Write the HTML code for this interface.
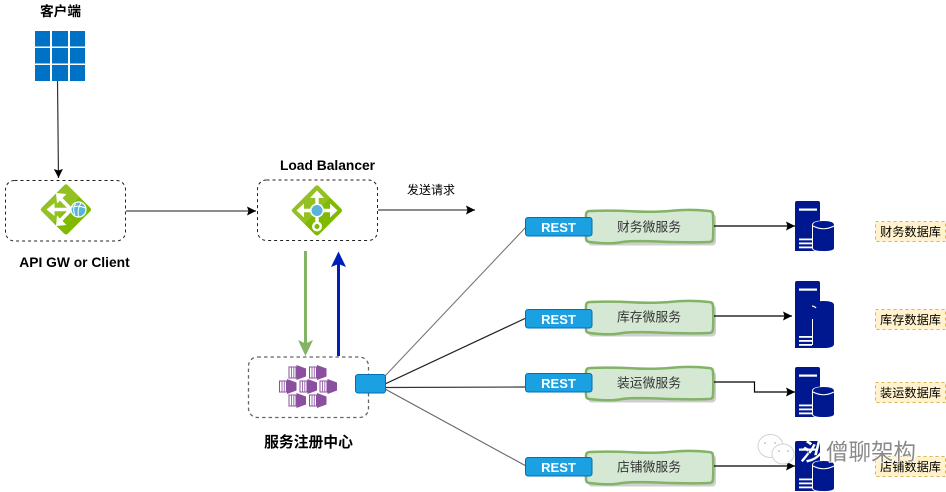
<!DOCTYPE html>
<html><head><meta charset="utf-8">
<style>
html,body{margin:0;padding:0;background:#fff;width:946px;height:492px;overflow:hidden}
svg{display:block}
text{font-family:"Liberation Sans","Noto Sans CJK SC",sans-serif}
</style></head>
<body>
<svg width="946" height="492" viewBox="0 0 946 492" xmlns="http://www.w3.org/2000/svg">
<defs>
<marker id="a" markerUnits="userSpaceOnUse" markerWidth="10" markerHeight="10" refX="9" refY="4.500" orient="auto"><path d="M0 0L9 4.500L0 9L1.500 4.500Z" fill="#000"/></marker>
<g id="server">
<path d="M0 2Q0 0 2 0H23Q25 0 25 2V50H0Z" fill="#00188f"/>
<rect x="4" y="7.500" width="18" height="2.200" fill="#fff"/>
<rect x="4" y="37.500" width="13" height="1.800" fill="#fff"/>
<rect x="4" y="41.500" width="13" height="1.800" fill="#fff"/>
<rect x="4" y="45.500" width="13" height="1.800" fill="#fff"/>
<path d="M17 24Q17 19.500 28.500 19.500Q40 19.500 40 24V47Q40 51 28.500 51Q17 51 17 47Z" fill="#fff"/>
<path d="M18 24Q18 20 28.500 20Q39 20 39 24V47Q39 50 28.500 50Q18 50 18 47Z" fill="#00188f"/>
<path d="M18 25Q28.500 30.500 39 25" fill="none" stroke="#fff" stroke-width="1.100"/>
</g>
<g id="hex">
<path d="M8 0L17.500 3.500V11.500L8 15Z" fill="#8a4f9e"/>
<path d="M0.500 2H7.500V13H0.500Z" fill="#fff" stroke="#8a4f9e" stroke-width="1"/>
<path d="M3 2V13M5.300 2V13" stroke="#a06fb0" stroke-width="1"/>
</g>
<g id="box" fill="#d5e8d4" stroke="#82b366" stroke-width="2.500">
<path d="M590 0Q610 -.8 632 .3T672 -.3T709 0Q713 0 713 4Q713.600 16 713 27Q713 31 709 31Q690 31.800 660 30.600T620 31.400T590 31Q586 31 586 27Q585.500 16 586 4Q586 0 590 0Z"/>
</g>
</defs>

<text x="60.500" y="16" font-size="13.700" font-weight="bold" text-anchor="middle" fill="#000">客户端</text>
<g fill="#0072c6">
<rect x="35" y="31" width="15" height="15.500"/><rect x="52" y="31" width="16" height="15.500"/><rect x="70" y="31" width="15" height="15.500"/>
<rect x="35" y="48" width="15" height="15.500"/><rect x="52" y="48" width="16" height="15.500"/><rect x="70" y="48" width="15" height="15.500"/>
<rect x="35" y="65" width="15" height="16"/><rect x="52" y="65" width="16" height="16"/><rect x="70" y="65" width="15" height="16"/>
</g>

<path d="M57.500 81L58.500 178" stroke="#333" stroke-width="1.200" fill="none" marker-end="url(#a)"/>

<rect x="5.500" y="180.500" width="120" height="60.500" rx="9" fill="#fff" stroke="#222" stroke-width="1" stroke-dasharray="3 3"/>
<path d="M66 187L88.500 209.500L66 232L43.500 209.500Z" fill="#7fba00" stroke="#7fba00" stroke-width="5" stroke-linejoin="round"/>
<path d="M66 184.500L78.500 197L53.500 222L41 209.500Z" fill="#9ac42f" opacity=".75" stroke="#9ac42f" stroke-width="1" stroke-linejoin="round"/>
<g stroke="#fff" stroke-width="3.600" fill="none">
<path d="M52 209.500H72"/><path d="M59 197L71 209.500L59 222"/>
</g>
<g fill="#fff">
<path d="M46.500 209.500L54.500 203V216Z"/>
<path d="M56 193L66.500 194L57 203.500Z"/>
<path d="M56 226L66.500 225L57 215.500Z"/>
</g>
<circle cx="78.500" cy="209.500" r="7.500" fill="#59b4d9" stroke="#fff" stroke-width="1.200"/>
<path d="M75.500 203.500Q72 210 75 215M81 202.800Q77 209 78.500 216.500M72 207Q79 205 85.500 208" fill="none" stroke="#fff" stroke-width="1"/>
<text x="74.500" y="267" font-size="13.800" font-weight="bold" text-anchor="middle" fill="#000">API GW or Client</text>

<path d="M126 211H256" stroke="#666" stroke-width="1.500" fill="none" marker-end="url(#a)"/>

<text x="327.500" y="170" font-size="13.800" font-weight="bold" text-anchor="middle" fill="#000">Load Balancer</text>
<rect x="257.500" y="180" width="120" height="60.500" rx="9" fill="#fff" stroke="#222" stroke-width="1" stroke-dasharray="3 3"/>
<path d="M317 188L339.500 210.500L317 233L294.500 210.500Z" fill="#7fba00" stroke="#7fba00" stroke-width="5" stroke-linejoin="round"/>
<path d="M317 185.500L329.500 198L304.500 223L292 210.500Z" fill="#9ac42f" opacity=".75" stroke="#9ac42f" stroke-width="1" stroke-linejoin="round"/>
<g stroke="#fff" stroke-width="3.400" fill="none">
<path d="M302 210.500H332"/><path d="M317 197V224"/>
</g>
<g fill="#fff">
<path d="M317 190.500L324 198H310Z"/>
<path d="M337.500 210.500L330 203.500V217.500Z"/>
<path d="M296.500 210.500L304 203.500V217.500Z"/>
<circle cx="317" cy="226.500" r="5"/>
<circle cx="317" cy="210.500" r="7"/>
</g>
<circle cx="317" cy="226.500" r="2.500" fill="#7fba00"/>
<circle cx="317" cy="210.500" r="5.500" fill="#59b4d9"/>

<path d="M378 210H475" stroke="#666" stroke-width="1.500" fill="none" marker-end="url(#a)"/>
<text x="431" y="194" font-size="12" text-anchor="middle" fill="#000">发送请求</text>

<path d="M305.500 251V345" stroke="#82b366" stroke-width="3" fill="none"/>
<path d="M298 340L305.500 343.500L313 340L305.500 356Z" fill="#82b366"/>
<path d="M338.500 356V262" stroke="#001dbc" stroke-width="3" fill="none"/>
<path d="M331 267L338.500 251.500L346 267L338.500 264Z" fill="#001dbc"/>

<rect x="248.500" y="357" width="120" height="60.500" rx="9" fill="#fff" stroke="#666" stroke-width="1.300" stroke-dasharray="3.500 3"/>
<use href="#hex" x="288.500" y="365"/><use href="#hex" x="309" y="365"/>
<use href="#hex" x="279" y="379"/><use href="#hex" x="299.500" y="379"/><use href="#hex" x="319.500" y="379"/>
<use href="#hex" x="288.500" y="393"/><use href="#hex" x="309" y="393"/>
<text x="308.500" y="447" font-size="14.800" font-weight="bold" text-anchor="middle" fill="#000">服务注册中心</text>

<path d="M385 376L526 227" stroke="#777" stroke-width="1.100" fill="none"/>
<path d="M385 384L526 318" stroke="#222" stroke-width="1.200" fill="none"/>
<path d="M385 387.500L526 387" stroke="#333" stroke-width="1.200" fill="none"/>
<path d="M385 389L526 466" stroke="#666" stroke-width="1.100" fill="none"/>
<rect x="355.500" y="374.500" width="30" height="18.500" rx="2.500" fill="#1ba1e2" stroke="#006eaf" stroke-width="1"/>

<g fill="#cfcfcf">
<rect x="588" y="214" width="128" height="31.500" rx="4"/><rect x="588" y="305" width="128" height="31.500" rx="4"/><rect x="588" y="371" width="128" height="31.500" rx="4"/><rect x="588" y="455" width="128" height="31.500" rx="4"/>
</g>
<use href="#box" y="211"/><use href="#box" y="302"/><use href="#box" y="368"/><use href="#box" y="452"/>
<g font-size="12.800" text-anchor="middle" fill="#333">
<text x="649" y="231.500">财务微服务</text><text x="649" y="321.500">库存微服务</text><text x="649" y="387.500">装运微服务</text><text x="649" y="471.500">店铺微服务</text>
</g>

<g fill="#1ba1e2" stroke="#006eaf" stroke-width="1">
<rect x="525.500" y="217.500" width="66.500" height="18.500" rx="2.500"/><rect x="525.500" y="309.500" width="66.500" height="18.500" rx="2.500"/><rect x="525.500" y="373.500" width="66.500" height="18.500" rx="2.500"/><rect x="525.500" y="457.500" width="66.500" height="18.500" rx="2.500"/>
</g>
<g font-size="13" font-weight="bold" text-anchor="middle" fill="#fff">
<text x="558.500" y="232">REST</text><text x="558.500" y="324">REST</text><text x="558.500" y="388">REST</text><text x="558.500" y="472">REST</text>
</g>

<g stroke="#000" stroke-width="1.200" fill="none" marker-end="url(#a)">
<path d="M714 226H795"/><path d="M714 316H792"/><path d="M714 382H754.500V392H795"/><path d="M714 466H795"/>
</g>

<use href="#server" x="795" y="201"/>
<g>
<path d="M795 283Q795 281 797 281H818Q820 281 820 283V348H795Z" fill="#00188f"/>
<rect x="799" y="288.500" width="18" height="2.200" fill="#fff"/>
<rect x="799" y="336" width="13" height="1.800" fill="#fff"/><rect x="799" y="340" width="13" height="1.800" fill="#fff"/><rect x="799" y="344" width="13" height="1.800" fill="#fff"/>
<path d="M813 305Q813 301 823.500 301Q834 301 834 305V344Q834 348 823.500 348Q813 348 813 344Z" fill="#00188f"/>
<path d="M812 306Q815 306.500 816 308" stroke="#fff" stroke-width="1.200" fill="none"/>
<path d="M812.500 319V345" stroke="#fff" stroke-width="1" fill="none"/>
</g>
<use href="#server" x="795" y="367"/>
<use href="#server" x="795" y="441"/>

<g fill="#fff2cc" stroke="#d6b656" stroke-width="1" stroke-dasharray="3 3">
<rect x="875.500" y="221.500" width="70" height="20"/><rect x="875.500" y="309.500" width="70" height="20"/><rect x="875.500" y="382.500" width="70" height="20"/><rect x="875.500" y="456.500" width="70" height="20"/>
</g>
<g font-size="12.200" text-anchor="middle" fill="#000">
<text x="910.500" y="236">财务数据库</text><text x="910.500" y="324">库存数据库</text><text x="910.500" y="397">装运数据库</text><text x="910.500" y="471">店铺数据库</text>
</g>

<g fill="#fff" stroke="#d2d2d2" stroke-width="1">
<ellipse cx="770.500" cy="446" rx="12.500" ry="11.500"/>
<ellipse cx="783" cy="454" rx="11" ry="10"/>
</g>
<g fill="#c8c8c8">
<circle cx="765" cy="443" r="1"/><circle cx="775" cy="443" r="1"/><circle cx="779" cy="451" r="1"/><circle cx="788" cy="451" r="1"/>
</g>
<text x="800" y="460" font-size="23" fill="#fff" stroke="#fff" stroke-width="0.800" font-style="italic">沙</text>
<text x="826" y="460" font-size="22.500" fill="#8a8a8a" stroke="#fff" stroke-width="1.800" paint-order="stroke">僧聊架构</text>
</svg>
</body></html>
